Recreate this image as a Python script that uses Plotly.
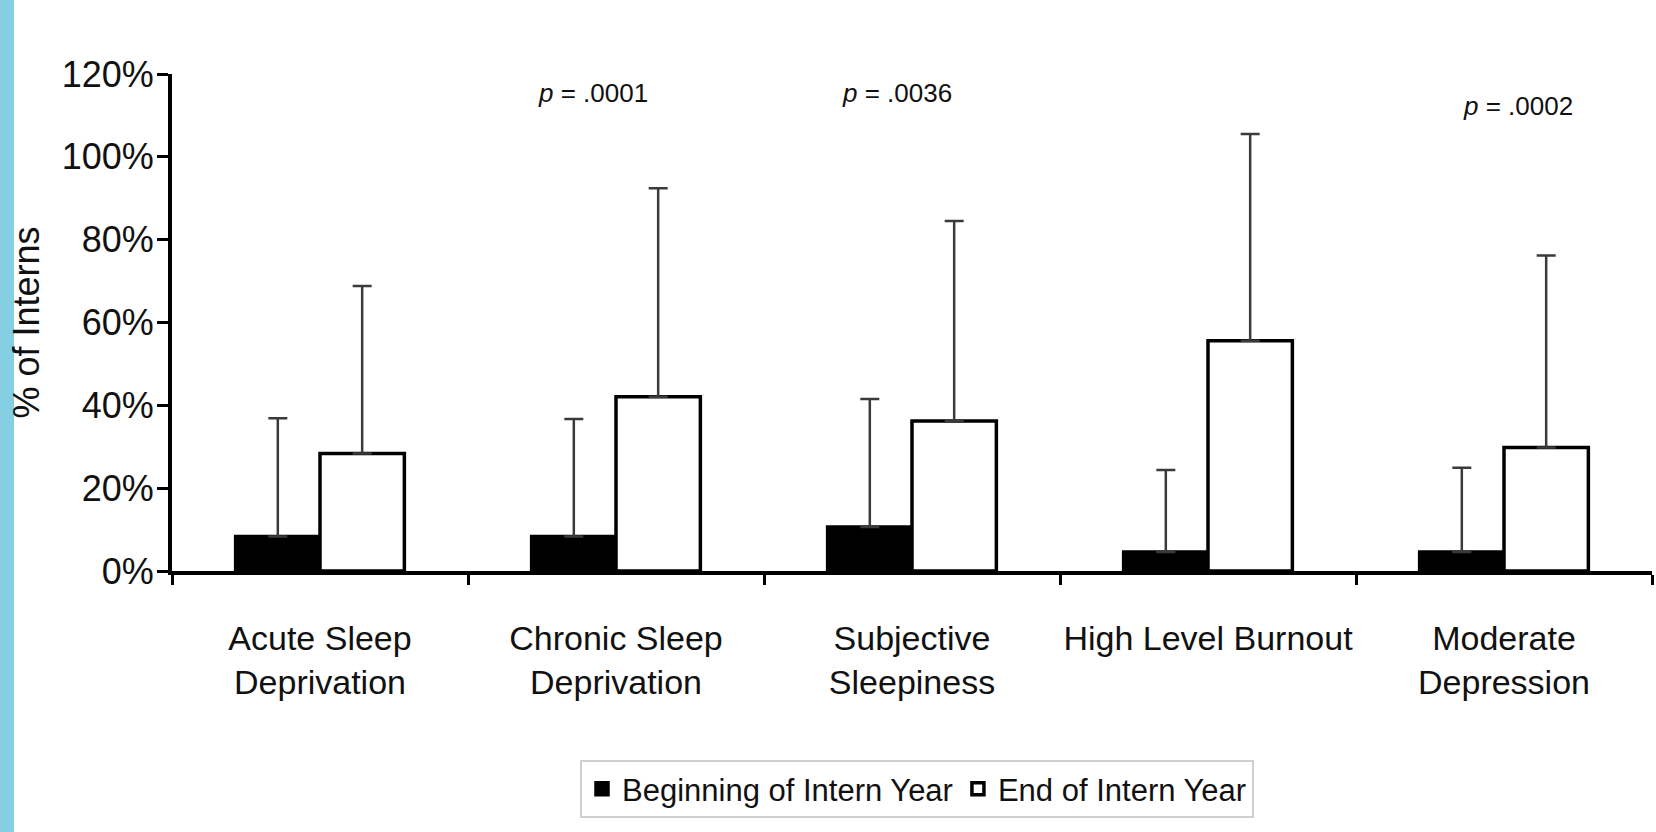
import plotly.graph_objects as go

# Outcome categories (x axis)
categories = [
    "Acute Sleep<br>Deprivation",
    "Chronic Sleep<br>Deprivation",
    "Subjective<br>Sleepiness",
    "High Level Burnout",
    "Moderate<br>Depression",
]

# % of interns at the beginning of the intern year, and the upper whisker length
begin_pct = [8.3, 8.3, 10.6, 4.6, 4.6]
begin_err = [28.6, 28.4, 30.9, 19.8, 20.3]

# % of interns at the end of the intern year, and the upper whisker length
end_pct = [28.4, 42.1, 36.2, 55.6, 29.8]
end_err = [40.4, 50.3, 48.3, 49.9, 46.4]

# significance labels above the categories
p_labels = ["<i>p</i> = .0001", "<i>p</i> = .0036", "<i>p</i> < .0001", "<i>p</i> = .0002"]
p_x = [0.922, 1.949, 2.922, 4.047]
p_y = [115.4, 115.4, 130.6, 112.3]

FONT = "Liberation Sans, Arial, Helvetica, sans-serif"
INK = "#111111"
err_style = dict(type="data", symmetric=False, color="#3a3a3a", thickness=2.5, width=9.5)

fig = go.Figure()
fig.add_trace(go.Bar(
    x=categories, y=begin_pct, name="Beginning of Intern Year",
    marker=dict(color="#000000", line=dict(color="#000000", width=3.5)),
    error_y=dict(array=begin_err, arrayminus=[0] * len(begin_err), **err_style),
))
fig.add_trace(go.Bar(
    x=categories, y=end_pct, name="End of Intern Year",
    marker=dict(color="#ffffff", line=dict(color="#000000", width=3.5)),
    error_y=dict(array=end_err, arrayminus=[0] * len(end_err), **err_style),
))

for txt, xv, yv in zip(p_labels, p_x, p_y):
    fig.add_annotation(x=xv, y=yv, xref="x", yref="y", text=txt, showarrow=False,
                       font=dict(family=FONT, size=26, color=INK))

# light blue strip on the far left edge of the page
fig.add_shape(type="rect", xref="paper", yref="paper",
              x0=-172 / 1480, x1=(14 - 172) / 1480, y0=-261 / 497, y1=571 / 497,
              fillcolor="#84cfe1", line=dict(width=0), layer="below")

fig.update_layout(
    width=1656, height=832,
    margin=dict(l=172, r=4, t=74, b=261),
    paper_bgcolor="white", plot_bgcolor="white",
    barmode="group", bargap=0.43, bargroupgap=0,
    font=dict(family=FONT, color=INK),
    showlegend=True,
    legend=dict(
        orientation="h", x=(580 - 172) / 1480, y=-(760 - 571) / 497,
        xanchor="left", yanchor="top",
        bordercolor="#cfcfcf", borderwidth=2, bgcolor="white",
        font=dict(family=FONT, size=31, color=INK),
    ),
    xaxis=dict(
        type="category", range=[-0.5, 4.5], automargin=False,
        showline=True, linecolor="#000000", linewidth=4,
        ticks="outside", tickson="boundaries", ticklen=10, tickwidth=3, tickcolor="#000000",
        showgrid=False, zeroline=False, tickangle=0,
        tickfont=dict(family=FONT, size=34, color=INK),
        ticklabelstandoff=34,
    ),
    yaxis=dict(
        range=[0, 120], dtick=20, ticksuffix="%", automargin=False,
        showline=True, linecolor="#000000", linewidth=4,
        ticks="outside", ticklen=11, tickwidth=3, tickcolor="#000000",
        showgrid=False, zeroline=False,
        tickfont=dict(family=FONT, size=36, color=INK),
        ticklabelstandoff=-4,
        title=dict(text="% of Interns", standoff=12,
                   font=dict(family=FONT, size=36, color=INK)),
    ),
)

fig.write_html("out.html")
